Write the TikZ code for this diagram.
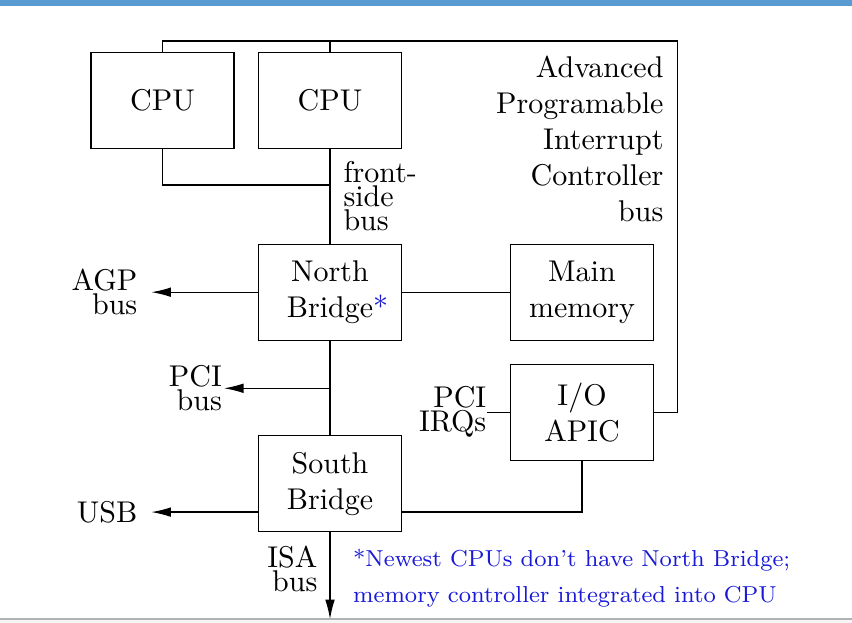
\documentclass[tikz,border=0pt]{standalone}
\usepackage{tikz}
\usepackage{xcolor}
\usetikzlibrary{positioning}
\usetikzlibrary{arrows.meta}
\usetikzlibrary{math}

\definecolor{notecol}{RGB}{25,25,215}
\definecolor{barcol}{RGB}{90,154,210}

\begin{document}
\begin{tikzpicture}[x=1pt,y=1pt,
  box/.style={draw, minimum width=47.7pt, minimum height=32pt, align=center},
  lbl/.style={align=right, inner sep=4.5pt},
  bus/.style={-{Latex[length=6.5pt,width=3.2pt]}}]

  \tikzmath{
    \pagew  = 284;    % width of the slide
    \pageh  = 207.67; % height of the slide
    \toprow = -13.67; % height of the APIC bus line
    \fsb    = -61.67; % where the first CPU joins the front-side bus
    \rside  = 225.9;  % right edge of the APIC bus
    \foot   = -206.33;% top of the slide footer
  }

  \useasboundingbox (0,0) rectangle (\pagew,-\pageh);
  \fill[barcol] (0,0) rectangle (\pagew,-2);

  % chips
  \node[box] (cpuA) at (54.17,-33.5) {CPU};
  \node[box] (cpuB) at (110,-33.5)   {CPU};
  \node[box] (nb)   at (110,-97.4)   {North\\Bridge\rlap{\textcolor{notecol}{*}}};
  \node[box] (mem)  at (194,-97.4)   {Main\\memory};
  \node[box] (apic) at (194,-137.43) {I/O\\APIC};
  \node[box] (sb)   at (110,-161.2)  {South\\Bridge};

  % front-side bus
  \coordinate (fsbj) at (cpuB.south |- 0,\fsb);
  \draw (cpuB) -- (nb)
  node[midway, right, align=left, inner sep=4.3pt] (fsblbl) {front-\\[-4pt]side\\[-4pt]bus};
  \draw (cpuA.south) |- (fsbj);

  % APIC bus over the top
  \coordinate (apicr) at (\rside,\toprow);
  \draw (cpuA.north) |- (apicr) |- (apic.east);
  \draw (cpuB.north) -- (cpuB.north |- apicr);
  \node[anchor=north east, align=right] (apiclbl) at (224.67,-15.3)
  {Advanced\\Programable\\Interrupt\\Controller\\bus};

  % North Bridge
  \draw (nb) -- (mem);
  \node[lbl, left=35.5pt of nb] (agp) {AGP\\[-4pt]bus};
  \draw[bus] (nb) -- (agp);
  \draw (nb) -- (sb);

  % PCI
  \coordinate (pcij) at (110,-129.43);
  \node[lbl, inner sep=0.5pt, left=35.33pt of pcij] (pci) {PCI\\[-4pt]bus};
  \draw[bus] (pcij) -- (pci);
  \node[lbl, inner sep=0pt, left=7.67pt of apic] (irq) {PCI\\[-4pt]IRQs};
  \draw (irq) -- (apic);

  % South Bridge
  \node[lbl, left=35.5pt of sb.west, yshift=-9.5pt] (usb) {USB};
  \draw[bus] (sb.west |- usb) -- (usb);
  \draw (sb.east |- usb) -| (apic.south);
  \coordinate (isaend) at (110,-206.4);
  \draw[bus] (sb) -- (isaend)
  node[pos=0.42, left, lbl, inner sep=4pt] (isa) {ISA\\[-4pt]bus};

  % footnote
  \node[anchor=north west, align=left, font=\fontsize{7.7}{9.5}\selectfont, text=notecol] (note) at (114.2,-179.4)
  {*Newest CPUs don't have North Bridge;\\[2.5pt]memory controller integrated into CPU};

  % slide footer
  \fill[gray!8] (0,\foot) rectangle (\pagew,-\pageh);
  \draw[gray!60] (0,\foot) -- (\pagew,\foot);

\end{tikzpicture}
\end{document}
